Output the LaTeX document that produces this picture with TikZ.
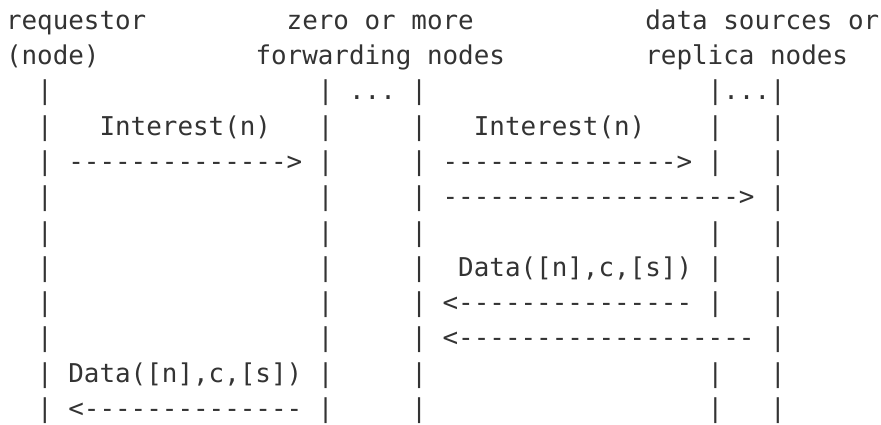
\documentclass[tikz,border=0pt]{standalone}
\usepackage{fontspec}
\setmonofont{DejaVu Sans Mono}
\definecolor{ink}{HTML}{333333}
\tikzset{
  txt/.style={anchor=base west, inner sep=0pt, outer sep=0pt, text=ink,
    font=\ttfamily\fontsize{25.9pt}{30pt}\selectfont},
}
\begin{document}
\begin{tikzpicture}
\useasboundingbox (0,0) rectangle (881pt,-425pt);
\begin{scope}[x=15.594pt, y=-35.25pt, shift={(6pt,-29.5pt)}]
% headings
\node[txt] (req)  at (0,0)  {requestor};
\node[txt] (zero) at (18,0) {zero~or~more};
\node[txt] (src)  at (41,0) {data~sources~or};
\node[txt] (node) at (0,1)  {(node)};
\node[txt] (fwd)  at (16,1) {forwarding~nodes};
\node[txt] (rep)  at (41,1) {replica~nodes};
% lifelines (rows 3..12 -> index 2..11)
\foreach \r in {2,...,11}{
  \foreach \c in {2,20,26,49}{
    \node[txt] (p-\r-\c) at (\c,\r) {|};
  }
}
\foreach \r in {2,3,4,6,7,8,10,11}{
  \node[txt] (p-\r-45) at (45,\r) {|};
}
\node[txt] (dotsA) at (22,2) {...};
\node[txt] (dotsB) at (46,2) {...};
% messages
\node[txt] (int1) at (6,3)  {Interest(n)};
\node[txt] (int2) at (30,3) {Interest(n)};
\node[txt] (a1)   at (4,4)  {-------------->};
\node[txt] (a2)   at (28,4) {--------------->};
\node[txt] (a3)   at (28,5) {------------------->};
\node[txt] (dat2) at (29,7) {Data([n],c,[s])};
\node[txt] (b2)   at (28,8) {<---------------};
\node[txt] (b3)   at (28,9) {<-------------------};
\node[txt] (dat1) at (4,10) {Data([n],c,[s])};
\node[txt] (b1)   at (4,11) {<--------------};
\end{scope}
\end{tikzpicture}
\end{document}
